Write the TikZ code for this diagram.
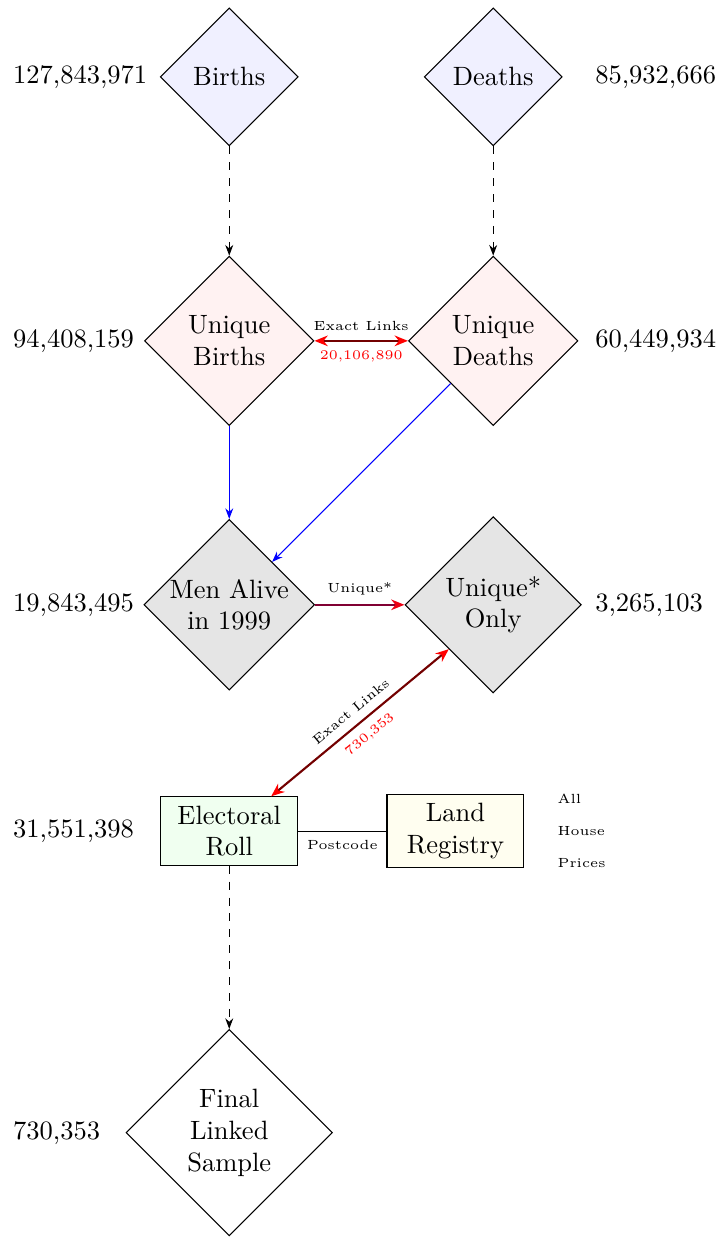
\documentclass[tikz,border=0pt]{standalone}
\usetikzlibrary{shapes.geometric,arrows.meta}
\definecolor{uniqline}{RGB}{128,0,50}
\begin{document}
\begin{tikzpicture}[decision/.style={diamond,draw,text width=4.5em,align=center,inner sep=0pt},
	block/.style={rectangle,draw,text width=4.5em,align=center},
	count/.style={anchor=west},
	note/.style={font=\tiny},
	feed/.style={dashed,-{Stealth[length=4pt,width=3pt]}},
	match/.style={draw=red!45!black,thick,{Stealth[red,length=5pt,width=4pt]}-{Stealth[red,length=5pt,width=4pt]}}]
	\useasboundingbox (-3.04,1.02) rectangle (6.50,-15.41);

	\node[decision,fill=blue!6] (births) at (0,0) {Births};
	\node[decision,fill=blue!6] (deaths) at (3.5,0) {Deaths};
	\node[decision,fill=red!5] (ubirths) at (0,-3.5) {Unique\\Births};
	\node[decision,fill=red!5] (udeaths) at (3.5,-3.5) {Unique\\Deaths};
	\node[decision,fill=black!10] (alive) at (0,-7) {Men~Alive\\in 1999};
	\node[decision,fill=black!10] (uonly) at (3.5,-7) {Unique*\\Only};
	\node[block,fill=green!6] (roll) at (0,-10) {Electoral\\Roll};
	\node[block,fill=yellow!6] (land) at (3,-10) {Land\\Registry};
	\node[decision] (final) at (0,-14) {Final\\Linked\\Sample};

	% counts
	\node[count] (nbirths) at (-2.99,0) {127,843,971};
	\node[count] (ndeaths) at (4.73,0) {85,932,666};
	\node[count] (nubirths) at (-2.99,-3.5) {94,408,159};
	\node[count] (nudeaths) at (4.73,-3.5) {60,449,934};
	\node[count] (nalive) at (-2.99,-7) {19,843,495};
	\node[count] (nuonly) at (4.73,-7) {3,265,103};
	\node[count] (nroll) at (-2.99,-10) {31,551,398};
	\node[count,note,align=left] (prices) at (4.23,-10) {All\\[6pt]House\\[6pt]Prices};
	\node[count] (nfinal) at (-2.99,-14) {730,353};

	\draw[feed] (births) -- (ubirths);
	\draw[feed] (deaths) -- (udeaths);
	\draw[match] (ubirths) -- (udeaths) node[midway,above,note] {Exact Links} node[midway,below,note,text=red] {20,106,890};
	\draw[draw=blue,-{Stealth[blue,length=4pt,width=3pt]}] (ubirths) -- (alive);
	\draw[draw=blue,-{Stealth[blue,length=4pt,width=3pt]}] (udeaths.south west) -- (alive.north east);
	\draw[draw=uniqline,thick,-{Stealth[red!70!purple,length=5pt,width=4pt]}] (alive) -- (uonly) node[midway,above,note] {Unique*};
	\draw[match] (uonly.south west) -- (roll) node[midway,above,sloped,note] {Exact Links} node[midway,below,sloped,note,text=red] {730,353};
	\draw (roll) -- (land) node[midway,below,note] {Postcode};
	\draw[feed] (roll) -- (final);
\end{tikzpicture}
\end{document}
